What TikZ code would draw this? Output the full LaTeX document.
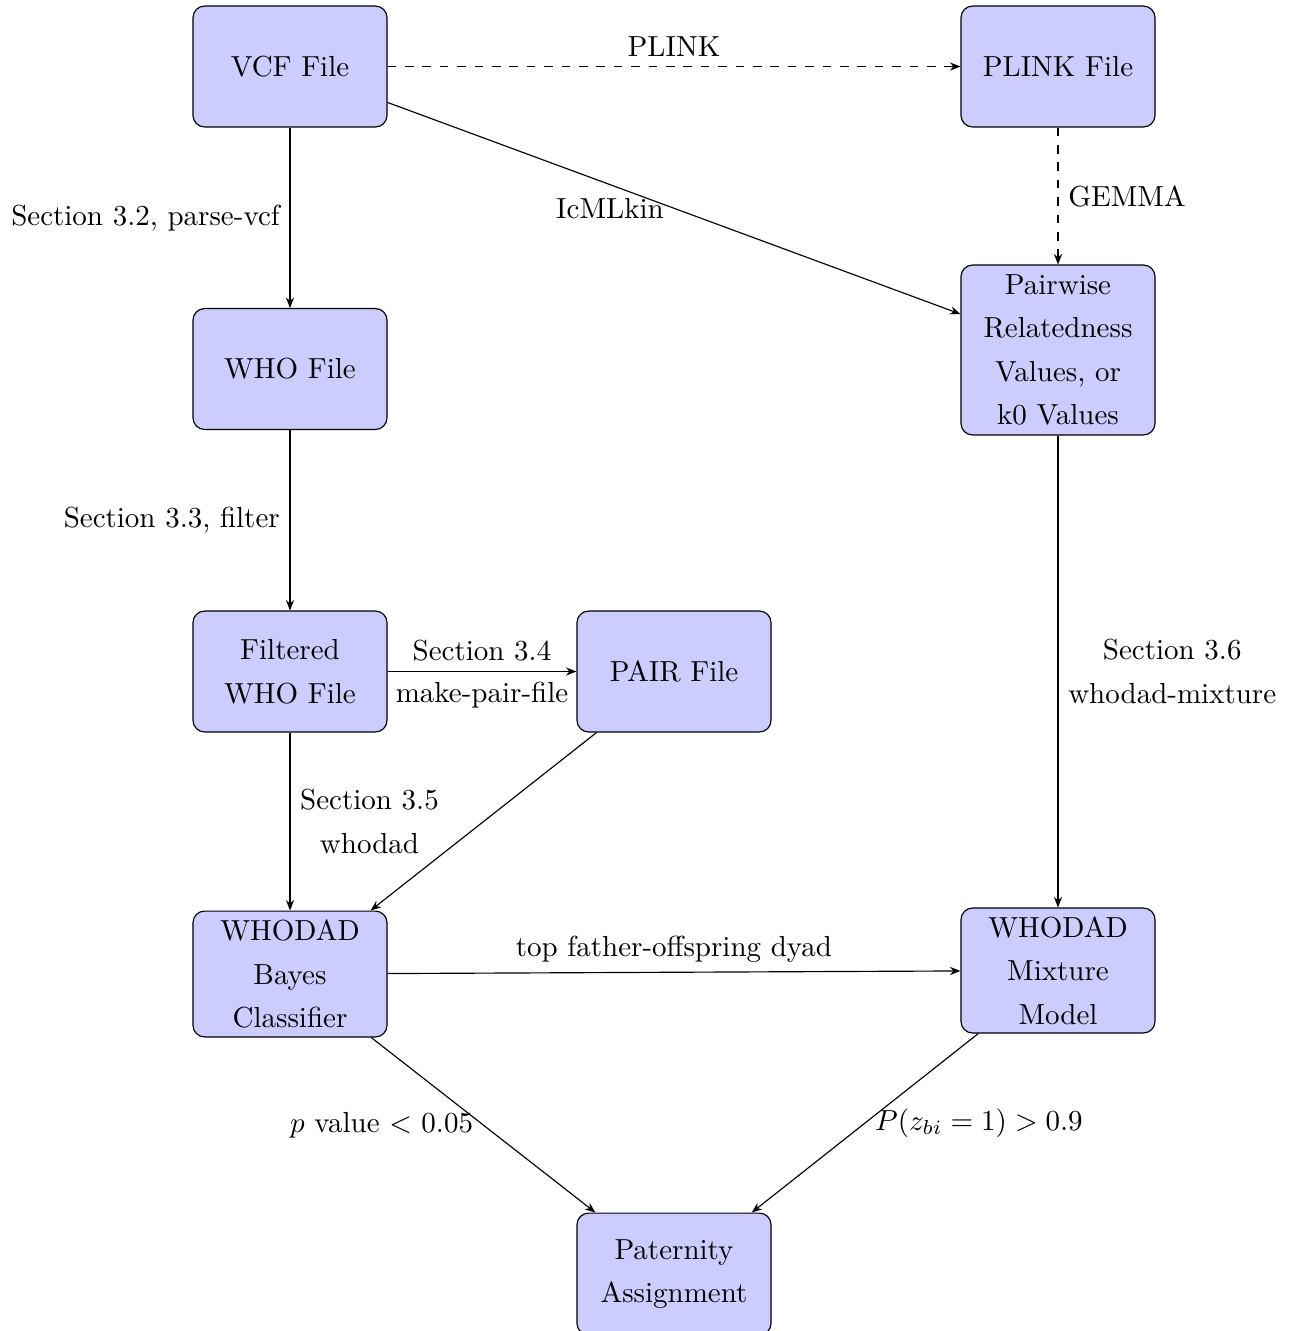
\documentclass[tikz,border=0pt]{standalone}
\usetikzlibrary{arrows.meta}
\linespread{1.25}
\begin{document}
\begin{tikzpicture}[x=0.34483pt,y=-0.34483pt,
  box/.style={draw, rounded corners=4pt, fill=blue!20, minimum width=66.9pt, minimum height=41.7pt, align=center, inner sep=2pt},
  arr/.style={-{Stealth[length=3.6pt,width=2.8pt]}},
  lbl/.style={align=center}]
\useasboundingbox (0,0) rectangle (1295,1331);
\node[box] (vcf) at (290,66.5) {VCF File};
\node[box] (plink) at (1058,66.5) {PLINK File};
\node[box] (who) at (290,369) {WHO File};
\node[box, minimum height=58.6pt] (pair) at (1058,350) {Pairwise\\Relatedness\\Values, or\\k0 Values};
\node[box] (filt) at (290,671.5) {Filtered\\WHO File};
\node[box] (pairf) at (674,671.5) {PAIR File};
\node[box, minimum height=43.4pt] (bayes) at (290,974) {WHODAD\\Bayes\\Classifier};
\node[box, minimum height=43.1pt] (mix) at (1058,970.5) {WHODAD\\Mixture\\Model};
\node[box, minimum height=42pt] (pat) at (674,1274) {Paternity\\Assignment};

\draw[arr, dashed] (vcf) -- node[lbl, above] {PLINK} (plink);
\draw[arr, dashed] (plink) -- node[lbl, right] {GEMMA} (pair);
\draw[arr] (vcf) -- node[lbl, midway, left] {IcMLkin} (pair);
\draw[arr] (vcf) -- node[lbl, left] {Section 3.2, parse-vcf} (who);
\draw[arr] (who) -- node[lbl, left] {Section 3.3, filter} (filt);
\draw[arr] (filt) -- node[lbl, above] {Section 3.4} node[lbl, below] {make-pair-file} (pairf);
\draw[arr] (filt) -- node[lbl, right] {Section 3.5\\whodad} (bayes);
\draw[arr] (pairf) -- (bayes);
\draw[arr] (pair) -- node[lbl, right] {Section 3.6\\whodad-mixture} (mix);
\draw[arr] (bayes) -- node[lbl, above] {top father-offspring dyad} (mix);
\draw[arr] (bayes) -- node[lbl, midway, left] {$p$ value $<$ 0.05} (pat);
\draw[arr] (mix) -- node[lbl, midway, right] {$P(z_{bi}=1) > 0.9$} (pat);
\end{tikzpicture}
\end{document}
